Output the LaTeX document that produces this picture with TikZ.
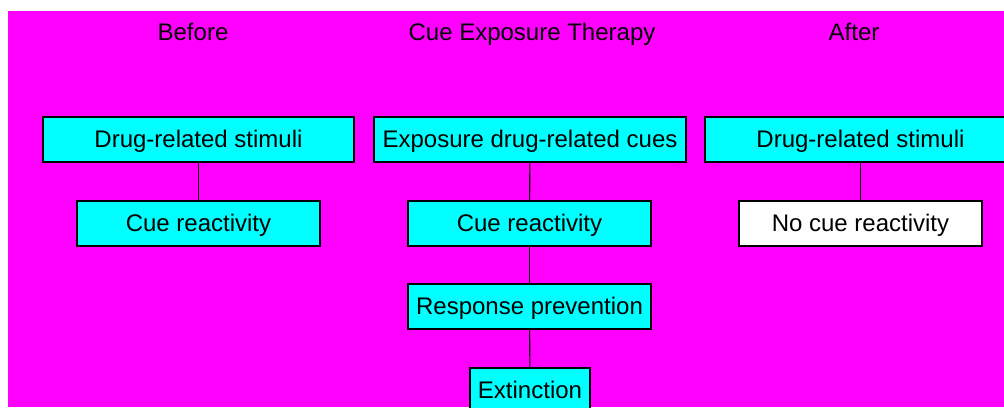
\documentclass[tikz,border=0pt]{standalone}
\usepackage{fontspec}
\setmainfont{Liberation Sans}
\definecolor{bgmag}{RGB}{255,0,255}
\definecolor{boxcyan}{RGB}{0,255,255}
\tikzset{
  box/.style={draw=black, line width=1.1pt, fill=boxcyan, rectangle, inner sep=0pt,
    text height=20pt, text depth=5pt,
    minimum height=45pt, font=\fontsize{24}{28}\selectfont},
  title/.style={font=\fontsize{24}{28}\selectfont, inner sep=0pt, anchor=base},
  link/.style={draw=black, line width=1.1pt}
}
\begin{document}
\begin{tikzpicture}[x=1pt,y=-1pt]
\useasboundingbox (0,0) rectangle (1004,407);
\clip (0,0) rectangle (1004,407);
\fill[white] (0,0) rectangle (1004,407);
\fill[bgmag] (8,11) rectangle (1004,407);
\node[title] (tb) at (193,40) {Before};
\node[title] (tc) at (532,40) {Cue Exposure Therapy};
\node[title] (ta) at (854,40) {After};
\node[box, minimum width=311pt] (b1) at (198.5,139.5) {Drug-related stimuli};
\node[box, minimum width=243pt] (b2) at (198.5,223.5) {Cue reactivity};
\node[box, minimum width=312pt] (c1) at (530,139.5) {Exposure drug-related cues};
\node[box, minimum width=243pt] (c2) at (529.5,223.5) {Cue reactivity};
\node[box, minimum width=243pt] (c3) at (529.5,306.5) {Response prevention};
\node[box, minimum width=120pt] (c4) at (530,390.5) {Extinction};
\node[box, minimum width=311pt] (a1) at (860.5,139.5) {Drug-related stimuli};
\node[box, minimum width=243pt, fill=white] (a2) at (860.5,223.5) {No cue reactivity};
\draw[link] (b1) -- (b2);
\draw[link] (c1) -- (c2);
\draw[link] (c2) -- (c3);
\draw[link] (c3) -- (c4);
\draw[link] (a1) -- (a2);
\end{tikzpicture}
\end{document}
